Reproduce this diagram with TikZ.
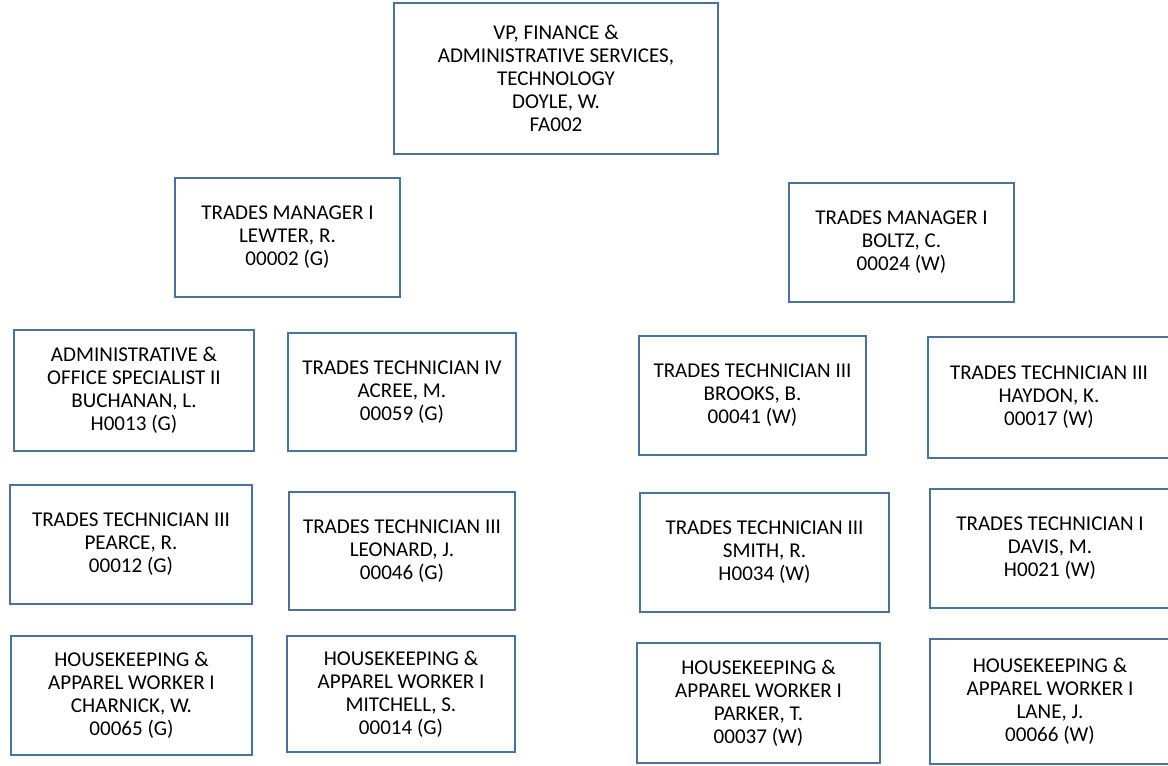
\documentclass[tikz,border=0pt]{standalone}
\usepackage{fontspec}
\setmainfont{Carlito}
\usetikzlibrary{positioning}
\definecolor{boxblue}{RGB}{70,114,164}
\tikzstyle{orgbox} = [
    rectangle, draw=boxblue, line width=1.6pt,
    align=center, inner sep=0pt,
    font=\fontsize{15.8}{17.25}\selectfont
]

\begin{document}
\begin{tikzpicture}[x=0.75pt, y=-0.75pt]
        \useasboundingbox (0,0) rectangle (1168,765);
        % Top
        \node[orgbox, minimum width=243pt, minimum height=113pt] (vp) at (556,78.5) {
            VP, FINANCE \&\\ ADMINISTRATIVE SERVICES,\\ TECHNOLOGY\\ DOYLE, W.\\ FA002
        };

        % Managers
        \node[orgbox, minimum width=169pt, minimum height=89pt] (lewter) at (287.5,237.5) {
            TRADES MANAGER I\\ LEWTER, R.\\ 00002 (G)
        };
        \node[orgbox, minimum width=169pt, minimum height=89pt] (boltz) at (901.5,242.5) {
            TRADES MANAGER I\\ BOLTZ, C.\\ 00024 (W)
        };

        % Row 1
        \node[orgbox, minimum width=180pt, minimum height=91pt] (buchanan) at (134,390.5) {
            ADMINISTRATIVE \&\\ OFFICE SPECIALIST II\\ BUCHANAN, L.\\ H0013 (G)
        };
        \node[orgbox, minimum width=171pt, minimum height=89pt] (acree) at (402,392) {
            TRADES TECHNICIAN IV\\ ACREE, M.\\ 00059 (G)
        };
        \node[orgbox, minimum width=170pt, minimum height=89pt] (brooks) at (752.5,395.5) {
            TRADES TECHNICIAN III\\ BROOKS, B.\\ 00041 (W)
        };
        \node[orgbox, minimum width=182pt, minimum height=91pt] (haydon) at (1049,397.5) {
            TRADES TECHNICIAN III\\ HAYDON, K.\\ 00017 (W)
        };

        % Row 2
        \node[orgbox, minimum width=181pt, minimum height=89pt] (pearce) at (131,544.5) {
            TRADES TECHNICIAN III\\ PEARCE, R.\\ 00012 (G)
        };
        \node[orgbox, minimum width=170pt, minimum height=89pt] (leonard) at (402,551) {
            TRADES TECHNICIAN III\\ LEONARD, J.\\ 00046 (G)
        };
        \node[orgbox, minimum width=187pt, minimum height=89pt] (smith) at (764.5,552.5) {
            TRADES TECHNICIAN III\\ SMITH, R.\\ H0034 (W)
        };
        \node[orgbox, minimum width=180pt, minimum height=89pt] (davis) at (1050,548.5) {
            TRADES TECHNICIAN I\\ DAVIS, M.\\ H0021 (W)
        };

        % Row 3
        \node[orgbox, minimum width=181pt, minimum height=89pt] (charnick) at (131.5,695.5) {
            HOUSEKEEPING \&\\ APPAREL WORKER I\\ CHARNICK, W.\\ 00065 (G)
        };
        \node[orgbox, minimum width=171pt, minimum height=87pt] (mitchell) at (401,694) {
            HOUSEKEEPING \&\\ APPAREL WORKER I\\ MITCHELL, S.\\ 00014 (G)
        };
        \node[orgbox, minimum width=182pt, minimum height=90pt] (parker) at (758.5,703) {
            HOUSEKEEPING \&\\ APPAREL WORKER I\\ PARKER, T.\\ 00037 (W)
        };
        \node[orgbox, minimum width=180pt, minimum height=94pt] (lane) at (1050,701.5) {
            HOUSEKEEPING \&\\ APPAREL WORKER I\\ LANE, J.\\ 00066 (W)
        };
\end{tikzpicture}
\end{document}
